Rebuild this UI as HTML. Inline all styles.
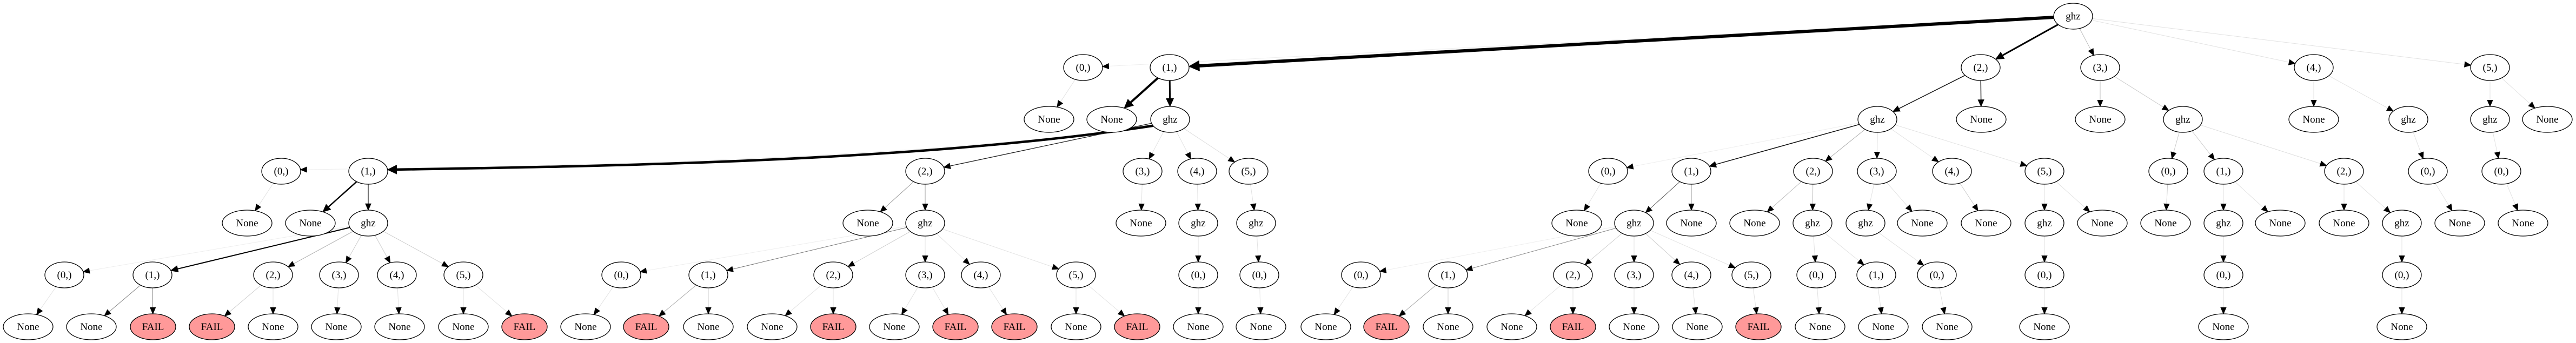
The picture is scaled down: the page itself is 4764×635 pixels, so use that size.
<!DOCTYPE html>
<html><head><meta charset="utf-8"><style>
html,body{margin:0;padding:0;background:#fff;}
svg{display:block;}
text{font-family:"Liberation Serif",serif;font-size:19px;}
</style></head><body>
<svg id="g" width="4764" height="635" viewBox="0 0 4764 635" xmlns="http://www.w3.org/2000/svg"></svg>
<script>
const Y=[30,125,221,317,413,509,605];
const nodes={};
function add(id,row,x,label){nodes[id]={row,x,y:Y[row],label};}
add('R',0,3834,'ghz');
[['a0',2003,'(0,)'],['a1',2163,'(1,)'],['a2',3663,'(2,)'],['a3',3884,'(3,)'],['a4',4279,'(4,)'],['a5',4605,'(5,)']].forEach(d=>add(d[0],1,d[1],d[2]));
[['b0',1940,'None'],['b1',2056,'None'],['b2',2164,'ghz'],['b3',3472,'ghz'],['b4',3664,'None'],['b5',3884,'None'],['b6',4037,'ghz'],['b7',4279,'None'],['b8',4454,'ghz'],['b9',4605,'ghz'],['b10',4711,'None']].forEach(d=>add(d[0],2,d[1],d[2]));
[['c0',520,'(0,)'],['c1',681,'(1,)'],['c2',1711,'(2,)'],['c3',2113,'(3,)'],['c4',2214,'(4,)'],['c5',2309,'(5,)'],['c6',2974,'(0,)'],['c7',3128,'(1,)'],['c8',3353,'(2,)'],['c9',3471,'(3,)'],['c10',3610,'(4,)'],['c11',3781,'(5,)'],['c12',4010,'(0,)'],['c13',4112,'(1,)'],['c14',4335,'(2,)'],['c15',4490,'(0,)'],['c16',4626,'(0,)']].forEach(d=>add(d[0],3,d[1],d[2]));
[['d0',457,'None'],['d1',574,'None'],['d2',681,'ghz'],['d3',1605,'None'],['d4',1711,'ghz'],['d5',2110,'None'],['d6',2216,'ghz'],['d7',2323,'ghz'],['d8',2916,'None'],['d9',3022,'ghz'],['d10',3128,'None'],['d11',3245,'None'],['d12',3352,'ghz'],['d13',3450,'ghz'],['d14',3555,'None'],['d15',3673,'None'],['d16',3781,'ghz'],['d17',3888,'None'],['d18',4005,'None'],['d19',4112,'ghz'],['d20',4217,'None'],['d21',4335,'None'],['d22',4442,'ghz'],['d23',4549,'None'],['d24',4666,'None']].forEach(d=>add(d[0],4,d[1],d[2]));
[['e0',119],['e1',282,'(1,)'],['e2',505,'(2,)'],['e3',627,'(3,)'],['e4',734,'(4,)'],['e5',857,'(5,)'],['e6',1149],['e7',1310,'(1,)'],['e8',1541,'(2,)'],['e9',1711,'(3,)'],['e10',1814,'(4,)'],['e11',1990,'(5,)'],['e12',2216],['e13',2329],['e14',2517],['e15',2678,'(1,)'],['e16',2909,'(2,)'],['e17',3022,'(3,)'],['e18',3128,'(4,)'],['e19',3239,'(5,)'],['e20',3359],['e21',3470,'(1,)'],['e22',3582],['e23',3781],['e24',4112],['e25',4442]].forEach(d=>add(d[0],5,d[1],d[2]||'(0,)'));
const r6=[['N',52],['N',169],['F',283],['F',392],['N',505],['N',622],['N',739],['N',857],['F',970],['N',1083],['F',1195],['N',1310],['N',1428],['F',1541],['N',1654],['F',1767],['F',1876],['N',1990],['F',2103],['N',2216],['N',2332],['N',2452],['F',2564],['N',2678],['N',2796],['F',2909],['N',3022],['N',3139],['F',3252],['N',3366],['N',3483],['N',3601],['N',3781],['N',4112],['N',4442]];
r6.forEach((d,i)=>add('f'+i,6,d[1],d[0]=='N'?'None':'FAIL'));
const L='#e2e2e2';
const E=[
['R','a0',1,'#eee'],['R','a1',6,'#000'],['R','a2',3,'#000'],['R','a3',1,'#bbb'],['R','a4',1,L],['R','a5',1,L],
['a0','b0',1,L],['a1','b1',4,'#000'],['a1','b2',3,'#000'],['a2','b3',1.5,'#111'],['a2','b4',1.5,'#111'],['a3','b5',1,'#bbb'],['a3','b6',1,'#ccc'],['a4','b7',1,L],['a4','b8',1,L],['a5','b9',1,L],['a5','b10',1,L],
['b2','c0',1,'#eee'],['b2','c1',4.5,'#000'],['b2','c2',1.3,'#222'],['b2','c3',1,L],['b2','c4',1,L],['b2','c5',1,'#ddd'],
['b3','c6',1,'#eee'],['b3','c7',1.5,'#111'],['b3','c8',1,'#aaa'],['b3','c9',1,'#ccc'],['b3','c10',1,L],['b3','c11',1,L],
['b6','c12',1,'#ccc'],['b6','c13',1,'#ccc'],['b6','c14',1,'#ddd'],['b8','c15',1,L],['b9','c16',1,L],
['c0','d0',1,L],['c1','d1',2.5,'#000'],['c1','d2',1.2,'#111'],['c2','d3',1,'#999'],['c2','d4',1,'#999'],['c3','d5',1,L],['c4','d6',1,L],['c5','d7',1,L],
['c6','d8',1,L],['c7','d9',1,'#555'],['c7','d10',1,'#999'],['c8','d11',1,'#bbb'],['c8','d12',1,'#bbb'],['c9','d13',1,L],['c9','d14',1,L],
['c10','d15',1,'#ccc'],['c11','d16',1,L],['c11','d17',1,L],['c12','d18',1,'#ccc'],['c13','d19',1,L],['c13','d20',1,L],['c14','d21',1,L],['c14','d22',1,L],['c15','d23',1,L],['c16','d24',1,L],
['d2','e0',1,'#eee'],['d2','e1',2,'#000'],['d2','e2',1,'#aaa'],['d2','e3',1,'#ccc'],['d2','e4',1,'#ccc'],['d2','e5',1,'#ccc'],
['d4','e6',1,'#eee'],['d4','e7',1,'#777'],['d4','e8',1,'#ccc'],['d4','e9',1,L],['d4','e10',1,L],['d4','e11',1,L],
['d6','e12',1,L],['d7','e13',1,L],
['d9','e14',1,'#eee'],['d9','e15',1,'#888'],['d9','e16',1,'#ccc'],['d9','e17',1,L],['d9','e18',1,'#ccc'],['d9','e19',1,L],
['d12','e20',1,L],['d12','e21',1,L],['d13','e22',1,L],['d16','e23',1,L],['d19','e24',1,L],['d22','e25',1,L],
['e0','f0',1,L],['e1','f1',1,'#888'],['e1','f2',1,'#888'],['e2','f3',1,'#ccc'],['e2','f4',1,L],['e3','f5',1,L],['e4','f6',1,L],['e5','f7',1,L],['e5','f8',1,L],
['e6','f9',1,L],['e7','f10',1,'#aaa'],['e7','f11',1,'#ccc'],['e8','f12',1,L],['e8','f13',1,L],['e9','f14',1,L],['e9','f15',1,L],['e10','f16',1,L],['e11','f17',1,L],['e11','f18',1,L],
['e12','f19',1,L],['e13','f20',1,L],['e14','f21',1,L],['e15','f22',1,'#aaa'],['e15','f23',1,'#ccc'],['e16','f24',1,L],['e16','f25',1,L],['e17','f26',1,L],['e18','f27',1,L],['e19','f28',1,L],
['e20','f29',1,L],['e21','f30',1,L],['e22','f31',1,L],['e23','f32',1,L],['e24','f33',1,L],['e25','f34',1,L]
];
function rx(n){return n.label=='None'?46:(n.label=='FAIL'?42:36);}
const RY=24;
function bpt(n,tx,ty){
  const dx=tx-n.x,dy=ty-n.y,a=rx(n),b=RY;
  if(dx===0&&dy===0) return [n.x,n.y];
  const t=1/Math.sqrt(dx*dx/(a*a)+dy*dy/(b*b));
  return [n.x+dx*t,n.y+dy*t];
}
let s='';
E.forEach(e=>{
  const p=nodes[e[0]],c=nodes[e[1]],w=e[2],col=e[3];
  const far=Math.abs(c.x-p.x)>700 && p.row>0;
  let st,en,d,dx,dy,B;
  if(far){
    const sgn=Math.sign(c.x-p.x);
    st=bpt(p,p.x+sgn*40,p.y+15);
    en=bpt(c,c.x-sgn*100,c.y-8);
    const c1=[st[0]+(en[0]-st[0])*0.3, st[1]+(en[1]-st[1])*0.8];
    const c2=[en[0]-(en[0]-st[0])*0.3, en[1]-(en[1]-st[1])*0.08];
    dx=en[0]-c2[0];dy=en[1]-c2[1];
    const len=Math.hypot(dx,dy)||1;dx/=len;dy/=len;
    const al=10+w*1.5;
    B=[en[0]-dx*al,en[1]-dy*al];
    d=`M${st[0]},${st[1]} C${c1[0]},${c1[1]} ${c2[0]},${c2[1]} ${B[0]},${B[1]}`;
  }else{
    st=bpt(p,c.x,c.y);en=bpt(c,p.x,p.y);
    dx=en[0]-st[0];dy=en[1]-st[1];
    const len=Math.hypot(dx,dy)||1;dx/=len;dy/=len;
    const al=10+w*1.5;
    B=[en[0]-dx*al,en[1]-dy*al];
    d=`M${st[0]},${st[1]} L${B[0]},${B[1]}`;
  }
  const aw=4+w*0.9;
  s+=`<path d="${d}" fill="none" stroke="${col}" stroke-width="${w}"/>`;
  s+=`<polygon points="${en[0]},${en[1]} ${B[0]-dy*aw},${B[1]+dx*aw} ${B[0]+dy*aw},${B[1]-dx*aw}" fill="#000" stroke="#000" stroke-width="1"/>`;
});
Object.values(nodes).forEach(n=>{
  const f=n.label=='FAIL'?'#ff9999':'#fff';
  s+=`<ellipse cx="${n.x}" cy="${n.y}" rx="${rx(n)}" ry="${RY}" fill="${f}" stroke="#000" stroke-width="1.3"/>`;
  s+=`<text x="${n.x}" y="${n.y+6}" text-anchor="middle">${n.label}</text>`;
});
document.getElementById('g').innerHTML=s;
</script>
</body></html>
